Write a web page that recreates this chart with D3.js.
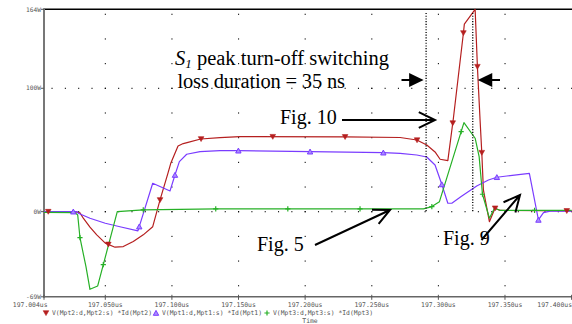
<!DOCTYPE html>
<html>
<head>
<meta charset="utf-8">
<script src="https://cdn.jsdelivr.net/npm/d3@7/dist/d3.min.js"></script>
<style>
  html, body { margin: 0; padding: 0; background: #fff; }
  svg { display: block; }
</style>
</head>
<body>
<svg id="chart" width="572" height="324"></svg>
<script>
// Switching power waveforms of three MOSFETs, V(d,s)*Id in W versus time in us
const mpt2 = [ // V(Mpt2:d,Mpt2:s)*Id(Mpt2)
  [197.004,0],[197.027,0],[197.031,-1],[197.0335,-5.3],[197.0385,-12.6],[197.0436,-18.8],
  [197.050,-25.5],[197.0573,-28.8],[197.0635,-28.3],[197.071,-24.2],[197.0785,-18.8],
  [197.0856,-12.2],[197.0911,9.5],[197.0971,31.4],[197.0993,39.7],[197.1046,53.2],
  [197.1085,55.2],[197.1121,56.2],[197.1216,58.9],[197.1361,60],[197.1511,60.8],
  [197.230,60.6],[197.2713,60.1],[197.2838,58.1],[197.2913,54],[197.2975,48.4],
  [197.3013,42.5],[197.3071,41.3],[197.3113,75.9],[197.3188,144.8],[197.3195,152],
  [197.3276,164],[197.3293,117.5],[197.3313,74.3],[197.3326,47.8],[197.3338,17.6],
  [197.3383,-8.1],[197.3425,2.8],[197.3463,1],[197.400,0.6]
];
const mpt1 = [ // V(Mpt1:d,Mpt1:s)*Id(Mpt1)
  [197.004,0],[197.0288,0],[197.0298,-1.3],[197.0385,-5.3],[197.050,-9.4],[197.061,-12.2],
  [197.0745,-15.6],[197.0856,23],[197.0986,16.8],[197.1023,29.7],[197.1056,40.5],
  [197.1111,46.5],[197.1211,48.6],[197.1361,49.4],[197.1496,49.4],[197.2037,48.6],
  [197.2587,47.8],[197.2713,47.2],[197.2838,45.9],[197.2913,44.3],[197.2975,37.8],
  [197.3025,22.4],[197.3071,6.8],[197.3101,6.8],[197.3171,12.2],[197.3288,20.8],
  [197.3376,25.7],[197.3439,27.9],[197.3514,28.9],[197.3683,31.1],[197.3751,-6.7],
  [197.3789,-0.8],[197.3839,0.5],[197.400,0.5]
];
const mpt3 = [ // V(Mpt3:d,Mpt3:s)*Id(Mpt3)
  [197.004,-0.5],[197.0273,-0.8],[197.0293,-2.7],[197.031,-21.1],[197.0355,-44.6],
  [197.0385,-62.9],[197.0443,-60.2],[197.059,0],[197.0785,1.4],[197.1336,2.2],
  [197.2888,2.2],[197.2951,4.1],[197.3008,8.1],[197.3192,72.1],[197.3276,59.5],
  [197.3306,44.6],[197.3331,14.1],[197.3383,-5.3],[197.3421,2.8],[197.3463,1.1],[197.400,1.1]
];

// Symbol positions along each trace (us)
const mpt2Marks = [197.0072,197.0523,197.0911,197.1219,197.1757,197.230,197.284,197.3108,197.3188,197.3293,197.3326,197.3426,197.3964];
const mpt1Marks = [197.026,197.0755,197.1023,197.1499,197.2037,197.2587,197.3026,197.3439,197.3751];
const mpt3Marks = [197.031,197.0485,197.0785,197.1329,197.187,197.2412,197.2951,197.3171,197.3331,197.3722];

const xTicks = [197.004,197.050,197.100,197.150,197.200,197.250,197.300,197.350,197.400];
const xTickLabels = ["197.004us","197.050us","197.100us","197.150us","197.200us","197.250us","197.300us","197.350us","197.400us"];
const yTicks = [164,100,0,-69];
const yTickLabels = ["164W","100W","0W","-69W"];

const legendLabels = ["V(Mpt2:d,Mpt2:s) *Id(Mpt2)","V(Mpt1:d,Mpt1:s) *Id(Mpt1)","V(Mpt3:d,Mpt3:s) *Id(Mpt3)"];

// Turn-off window of S1 (us) and its duration
const lossStart = 197.2908;
const lossDuration = 0.035;

const colors = { mpt2: "#b51f1f", mpt1: "#7a3cff", mpt3: "#26b026" };

const svg = d3.select("#chart");
const x = d3.scaleLinear().domain([197.004, 197.400]).range([44, 571.6]);
const y = d3.scaleLinear().domain([-69, 164]).range([296.8, 9.3]);

const mono = "'DejaVu Sans Mono', monospace";
const serif = "'Liberation Serif', 'Times New Roman', serif";

// Dotted grid: vertical lines at major time ticks, horizontal lines at 0 W and 100 W
const grid = svg.append("g").attr("fill", "#000");
xTicks.slice(1, -1).forEach(t => {
  d3.range(-60, 164, 20).forEach(p => {
    grid.append("rect").attr("x", x(t) - 0.5).attr("y", y(p) - 0.5).attr("width", 1.1).attr("height", 1.1);
  });
});
[0, 100].forEach(p => {
  d3.range(197.010, 197.400, 0.010).forEach(t => {
    grid.append("rect").attr("x", x(t) - 0.5).attr("y", y(p) - 0.5).attr("width", 1.1).attr("height", 1.1);
  });
});

// Frame and axes
svg.append("line").attr("x1", 44).attr("x2", 572).attr("y1", y(164)).attr("y2", y(164))
  .attr("stroke", "#000").attr("stroke-width", 1.5);
svg.append("line").attr("x1", 44).attr("x2", 572).attr("y1", y(-69)).attr("y2", y(-69))
  .attr("stroke", "#666").attr("stroke-width", 1.5);
svg.append("line").attr("x1", 44).attr("x2", 44).attr("y1", y(164) - 1).attr("y2", y(-69) + 1)
  .attr("stroke", "#777").attr("stroke-width", 2);

// x ticks and labels
xTicks.forEach((t, i) => {
  svg.append("line").attr("x1", x(t)).attr("x2", x(t)).attr("y1", y(-69) - 2).attr("y2", y(-69) + 3)
    .attr("stroke", "#555").attr("stroke-width", 1);
  const anchor = i === 0 || i === xTicks.length - 1 ? "end" : "middle";
  const lx = i === 0 ? x(t) + 3.5 : (i === xTicks.length - 1 ? 572 : x(t));
  svg.append("text").attr("x", lx).attr("y", 307).attr("text-anchor", anchor)
    .attr("font-family", mono).attr("font-size", 6.4).attr("fill", "#555").text(xTickLabels[i]);
});

// y ticks and labels
yTicks.forEach((p, i) => {
  svg.append("line").attr("x1", 41).attr("x2", 44).attr("y1", y(p)).attr("y2", y(p))
    .attr("stroke", "#555").attr("stroke-width", 1);
  svg.append("text").attr("x", 41).attr("y", y(p) + 2.2).attr("text-anchor", "end")
    .attr("font-family", mono).attr("font-size", 6.2).attr("fill", "#555").text(yTickLabels[i]);
});

// Traces
const clip = svg.append("clipPath").attr("id", "plot-clip").append("rect")
  .attr("x", 44).attr("y", y(164) - 1).attr("width", 528).attr("height", y(-69) - y(164) + 1);
const line = d3.line().x(d => x(d[0])).y(d => y(d[1]));
const traces = svg.append("g").attr("clip-path", "url(#plot-clip)");
const series = [
  { data: mpt2, marks: mpt2Marks, color: colors.mpt2, sym: "down" },
  { data: mpt1, marks: mpt1Marks, color: colors.mpt1, sym: "up" },
  { data: mpt3, marks: mpt3Marks, color: colors.mpt3, sym: "plus" }
];

function valueAt(data, t) {
  for (let i = 1; i < data.length; i++) {
    if (t <= data[i][0]) {
      const [t0, v0] = data[i - 1], [t1, v1] = data[i];
      return v0 + (v1 - v0) * (t - t0) / (t1 - t0);
    }
  }
  return data[data.length - 1][1];
}

function drawSymbol(g, kind, cx, cy, color) {
  if (kind === "down") {
    g.append("path").attr("d", `M${cx - 2.8},${cy - 2.3}L${cx + 2.8},${cy - 2.3}L${cx},${cy + 2.6}Z`)
      .attr("fill", color).attr("stroke", color).attr("stroke-width", 0.6);
  } else if (kind === "up") {
    g.append("path").attr("d", `M${cx - 2.7},${cy + 2.3}L${cx + 2.7},${cy + 2.3}L${cx},${cy - 2.6}Z`)
      .attr("fill", "#a98cff").attr("stroke", color).attr("stroke-width", 1);
  } else {
    g.append("path").attr("d", `M${cx - 2.6},${cy}L${cx + 2.6},${cy}M${cx},${cy - 2.6}L${cx},${cy + 2.6}`)
      .attr("stroke", color).attr("stroke-width", 1.2).attr("fill", "none");
  }
}

series.forEach(s => {
  traces.append("path").datum(s.data).attr("d", line).attr("fill", "none")
    .attr("stroke", s.color).attr("stroke-width", 1.2).attr("stroke-linejoin", "round");
});
series.forEach(s => {
  s.marks.forEach(t => drawSymbol(traces, s.sym, x(t), y(valueAt(s.data, t)), s.color));
});

// Legend and axis title
const legendX = [46, 156, 267];
series.forEach((s, i) => {
  drawSymbol(svg, s.sym, legendX[i], 313, s.color);
  svg.append("text").attr("x", legendX[i] + 6).attr("y", 315.2)
    .attr("font-family", mono).attr("font-size", 6.4).attr("fill", "#555").text(legendLabels[i]);
});
svg.append("text").attr("x", 310).attr("y", 323).attr("text-anchor", "middle")
  .attr("font-family", mono).attr("font-size", 6.4).attr("fill", "#555").text("Time");

// Annotations
const ann = svg.append("g");
const lossEnd = lossStart + lossDuration;
[lossStart, lossEnd].forEach(t => {
  ann.append("line").attr("x1", x(t)).attr("x2", x(t)).attr("y1", 13).attr("y2", 212)
    .attr("stroke", "#000").attr("stroke-width", 1.3).attr("stroke-dasharray", "1.1,1.6");
});

const t1 = ann.append("text").attr("x", 175).attr("y", 64.5)
  .attr("font-family", serif).attr("font-size", 20.5).attr("fill", "#000");
t1.append("tspan").attr("font-style", "italic").text("S");
t1.append("tspan").attr("font-style", "italic").attr("font-size", 13).attr("dy", 3).text("1");
t1.append("tspan").attr("dy", -3).text(" peak turn-off switching");
ann.append("text").attr("x", 177.5).attr("y", 88)
  .attr("font-family", serif).attr("font-size", 20.5).attr("fill", "#000")
  .attr("textLength", 167.5).attr("lengthAdjust", "spacing").text("loss duration = 35 ns");

// filled arrows bounding the loss window
const yArrow = 80;
ann.append("line").attr("x1", 401.5).attr("x2", 412).attr("y1", yArrow).attr("y2", yArrow)
  .attr("stroke", "#000").attr("stroke-width", 2);
ann.append("path").attr("d", `M${x(lossStart) - 2.5},${yArrow}L${x(lossStart) - 17},${yArrow - 7}L${x(lossStart) - 17},${yArrow + 7}Z`)
  .attr("fill", "#000");
ann.append("line").attr("x1", x(lossEnd) + 15).attr("x2", 500).attr("y1", yArrow).attr("y2", yArrow)
  .attr("stroke", "#000").attr("stroke-width", 2);
ann.append("path").attr("d", `M${x(lossEnd) + 5},${yArrow}L${x(lossEnd) + 19.5},${yArrow - 7}L${x(lossEnd) + 19.5},${yArrow + 7}Z`)
  .attr("fill", "#000");

function openArrow(x0, y0, x1, y1) {
  const a = Math.atan2(y1 - y0, x1 - x0);
  const len = 18, spread = 0.45;
  const p1 = [x1 - len * Math.cos(a - spread), y1 - len * Math.sin(a - spread)];
  const p2 = [x1 - len * Math.cos(a + spread), y1 - len * Math.sin(a + spread)];
  ann.append("path")
    .attr("d", `M${x0},${y0}L${x1},${y1}M${p1[0]},${p1[1]}L${x1},${y1}L${p2[0]},${p2[1]}`)
    .attr("fill", "none").attr("stroke", "#000").attr("stroke-width", 2)
    .attr("stroke-linecap", "butt").attr("stroke-linejoin", "miter");
}

ann.append("text").attr("x", 280).attr("y", 123.5)
  .attr("font-family", serif).attr("font-size", 20).attr("fill", "#000").text("Fig. 10");
openArrow(342, 120, 435, 120);

ann.append("text").attr("x", 257).attr("y", 250.5)
  .attr("font-family", serif).attr("font-size", 20).attr("fill", "#000").text("Fig. 5");
openArrow(315, 245, 390, 210);

ann.append("text").attr("x", 443).attr("y", 245)
  .attr("font-family", serif).attr("font-size", 20).attr("fill", "#000").text("Fig. 9");
openArrow(481.5, 240, 520, 195);
</script>
</body>
</html>
